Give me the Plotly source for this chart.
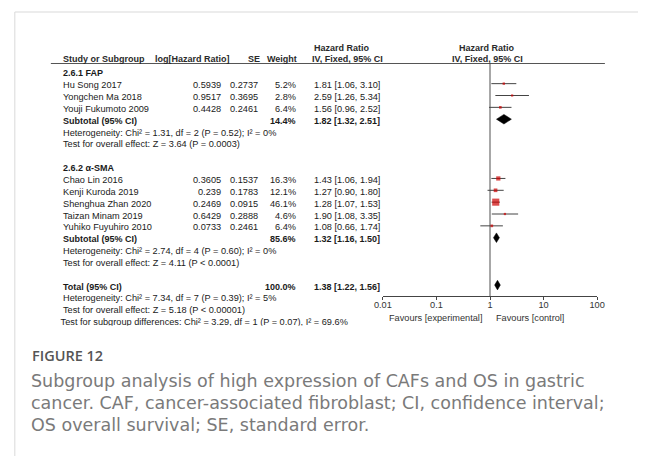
import math
import plotly.graph_objects as go

W, H = 646, 456

# ---------------- data ----------------
fap_studies = ["Hu Song 2017", "Yongchen Ma 2018", "Youji Fukumoto 2009"]
fap_loghr = ["0.5939", "0.9517", "0.4428"]
fap_se = ["0.2737", "0.3695", "0.2461"]
fap_weight = [5.2, 2.8, 6.4]
fap_hr = [1.81, 2.59, 1.56]
fap_lo = [1.06, 1.26, 0.96]
fap_hi = [3.10, 5.34, 2.52]
fap_sub = {"weight": 14.4, "hr": 1.82, "lo": 1.32, "hi": 2.51}
fap_het = "Heterogeneity: Chi² = 1.31, df = 2 (P = 0.52); I² = 0%"
fap_test = "Test for overall effect: Z = 3.64 (P = 0.0003)"

sma_studies = ["Chao Lin 2016", "Kenji Kuroda 2019", "Shenghua Zhan 2020",
               "Taizan Minam 2019", "Yuhiko Fuyuhiro 2010"]
sma_loghr = ["0.3605", "0.239", "0.2469", "0.6429", "0.0733"]
sma_se = ["0.1537", "0.1783", "0.0915", "0.2888", "0.2461"]
sma_weight = [16.3, 12.1, 46.1, 4.6, 6.4]
sma_hr = [1.43, 1.27, 1.28, 1.90, 1.08]
sma_lo = [1.06, 0.90, 1.07, 1.08, 0.66]
sma_hi = [1.94, 1.80, 1.53, 3.35, 1.74]
sma_sub = {"weight": 85.6, "hr": 1.32, "lo": 1.16, "hi": 1.50}
sma_het = "Heterogeneity: Chi² = 2.74, df = 4 (P = 0.60); I² = 0%"
sma_test = "Test for overall effect: Z = 4.11 (P < 0.0001)"

total = {"weight": 100.0, "hr": 1.38, "lo": 1.22, "hi": 1.56}
total_het = "Heterogeneity: Chi² = 7.34, df = 7 (P = 0.39); I² = 5%"
total_test = "Test for overall effect: Z = 5.18 (P < 0.00001)"
subgroup_test = "Test for subgroup differences: Chi² = 3.29, df = 1 (P = 0.07), I² = 69.6%"

tick_vals = [0.01, 0.1, 1, 10, 100]
tick_text = ["0.01", "0.1", "1", "10", "100"]

caption_title = "FIGURE 12"
caption_lines = [
    "Subgroup analysis of high expression of CAFs and OS in gastric",
    "cancer. CAF, cancer-associated fibroblast; CI, confidence interval;",
    "OS overall survival; SE, standard error.",
]

# ---------------- layout helpers ----------------
FONT = "Liberation Sans, Arial, sans-serif"
FS = 9.2
FSB = 9.0
TXT = "#1a1a1a"
ROW0, STEP = 73.3, 11.85


def rowy(i):
    return ROW0 + STEP * i


def px(x):
    return x / W


def py(y):
    return 1 - y / H


X_NAME, X_LOG, X_SE, X_W, X_CI = 53, 220, 258, 297, 311
AX_L, AX_R = 384, 604
TOP_Y, AX_Y = 63.5, 296

annotations = []


def txt(x, y, s, anchor="left", bold=False, size=None, color=TXT, family=FONT, weight=None):
    if size is None:
        size = FSB if bold else FS
    f = dict(family=family, size=size, color=color)
    if weight is not None:
        f["weight"] = weight
    annotations.append(dict(
        x=px(x), y=py(y), xref="paper", yref="paper", text=(f"<b>{s}</b>" if bold else s),
        showarrow=False, xanchor=anchor, yanchor="middle", font=f))


def fmt_ci(h, l, u):
    return f"{h:.2f} [{l:.2f}, {u:.2f}]"


fig = go.Figure()

# header
HC = "#2a2a2a"
txt(311, 48, "Hazard Ratio", bold=True, color=HC)
txt(491, 48, "Hazard Ratio", anchor="center", bold=True, color=HC)
txt(X_NAME, 59, "Study or Subgroup", bold=True, color=HC)
txt(229, 59, "log[Hazard Ratio]", anchor="right", bold=True, color=HC)
txt(260, 59, "SE", anchor="right", bold=True, color=HC)
txt(298, 59, "Weight", anchor="right", bold=True, color=HC)
txt(309, 59, "IV, Fixed, 95% CI", bold=True, color=HC)
txt(491, 59, "IV, Fixed, 95% CI", anchor="center", bold=True, color=HC)

ci_x, ci_y = [], []
sq_x, sq_y, sq_s = [], [], []
diamonds = []


def group(label, start, studies, logs, ses, ws, hrs, los, his, sub, het, test):
    txt(X_NAME, rowy(start), label, bold=True)
    for k in range(len(studies)):
        y = rowy(start + 1 + k)
        txt(X_NAME, y, studies[k])
        txt(X_LOG, y, logs[k], anchor="right")
        txt(X_SE, y, ses[k], anchor="right")
        txt(X_W, y, f"{ws[k]:.1f}%", anchor="right")
        txt(X_CI, y, fmt_ci(hrs[k], los[k], his[k]))
        ci_x.extend([los[k], his[k], None])
        ci_y.extend([y - 1.5, y - 1.5, None])
        sq_x.append(hrs[k])
        sq_y.append(y - 1.5)
        sq_s.append(max(2.2, 1.05 * math.sqrt(ws[k])))
    ys = rowy(start + 1 + len(studies))
    txt(X_NAME, ys, "Subtotal (95% CI)", bold=True)
    txt(X_W, ys, f"{sub['weight']:.1f}%", anchor="right", bold=True)
    txt(X_CI, ys, fmt_ci(sub["hr"], sub["lo"], sub["hi"]), bold=True)
    diamonds.append((sub, ys - 1.5))
    txt(X_NAME, rowy(start + 2 + len(studies)), het)
    txt(X_NAME, rowy(start + 3 + len(studies)), test)


group("2.6.1 FAP", 0, fap_studies, fap_loghr, fap_se, fap_weight, fap_hr, fap_lo, fap_hi,
      fap_sub, fap_het, fap_test)
group("2.6.2 α-SMA", 8, sma_studies, sma_loghr, sma_se, sma_weight, sma_hr, sma_lo, sma_hi,
      sma_sub, sma_het, sma_test)

yt = rowy(18)
txt(X_NAME, yt, "Total (95% CI)", bold=True)
txt(X_W, yt, f"{total['weight']:.1f}%", anchor="right", bold=True)
txt(X_CI, yt, fmt_ci(total["hr"], total["lo"], total["hi"]), bold=True)
diamonds.append((total, yt - 1.5))
txt(X_NAME, rowy(19), total_het)
txt(X_NAME, rowy(20), total_test)

# favours
txt(488, 318, "Favours [experimental]", anchor="right", color="#333")
txt(498, 318, "Favours [control]", anchor="left", color="#333")

# caption
txt(22, 355, caption_title, size=14.5, color="#555", family="Open Sans, sans-serif", weight=600)
for i, line in enumerate(caption_lines):
    txt(21, 381 + 22 * i, line, size=17.5, color="#7a7a7a", family="DejaVu Sans, sans-serif")

# traces
fig.add_trace(go.Scatter(x=ci_x, y=ci_y, mode="lines", line=dict(color="#444", width=1),
                         hoverinfo="skip", cliponaxis=False))
fig.add_trace(go.Scatter(x=sq_x, y=sq_y, mode="markers",
                         marker=dict(symbol="square", size=sq_s, color="#cc0000", line=dict(width=0)),
                         hoverinfo="skip", cliponaxis=False))
for d, y in diamonds:
    h = 4.8
    fig.add_trace(go.Scatter(x=[d["lo"], d["hr"], d["hi"], d["hr"], d["lo"]],
                             y=[y, y - h, y, y + h, y], mode="lines", fill="toself",
                             fillcolor="black", line=dict(color="black", width=0.5),
                             hoverinfo="skip", cliponaxis=False))

# clipped last line (cut off in the original image)
fig.add_trace(go.Scatter(x=[X_NAME], y=[rowy(21) + 1], mode="text", text=[subgroup_test],
                         textposition="middle right",
                         textfont=dict(family=FONT, size=FS, color=TXT),
                         xaxis="x2", yaxis="y2", cliponaxis=True, hoverinfo="skip"))

shapes = [
    dict(type="line", xref="paper", yref="paper", x0=px(43), x1=px(612), y0=py(TOP_Y), y1=py(TOP_Y),
         line=dict(color="#555", width=1)),
    dict(type="line", xref="x", yref="paper", x0=1, x1=1, y0=py(TOP_Y), y1=py(AX_Y),
         line=dict(color="#8a8a8a", width=1.5), layer="below"),
    dict(type="line", xref="paper", yref="paper", x0=px(6), x1=1, y0=py(12), y1=py(12),
         line=dict(color="#d9d9d9", width=1)),
    dict(type="line", xref="paper", yref="paper", x0=px(6), x1=px(6), y0=py(12), y1=0,
         line=dict(color="#d9d9d9", width=1)),
]

fig.update_layout(
    width=W, height=H, margin=dict(l=0, r=0, t=0, b=0),
    paper_bgcolor="white", plot_bgcolor="white", showlegend=False,
    annotations=annotations, shapes=shapes,
    xaxis=dict(type="log", range=[-2, 2], domain=[px(AX_L), px(AX_R)],
               tickvals=tick_vals, ticktext=tick_text, showgrid=False, zeroline=False,
               showline=True, linecolor="#444", linewidth=1, ticks="outside", ticklen=3,
               tickcolor="#444", ticklabelstandoff=-3,
               tickfont=dict(family=FONT, size=FS, color="#333"), anchor="y"),
    yaxis=dict(range=[AX_Y, TOP_Y], domain=[py(AX_Y), py(TOP_Y)], visible=False, anchor="x"),
    xaxis2=dict(range=[0, W], domain=[0, 1], visible=False, anchor="y2"),
    yaxis2=dict(range=[325.8, 316], domain=[py(325.8), py(316)], visible=False, anchor="x2"),
)

fig.write_html("out.html", config={"displayModeBar": False},
               post_script="document.body.style.margin='0';document.body.style.overflow='hidden';")
